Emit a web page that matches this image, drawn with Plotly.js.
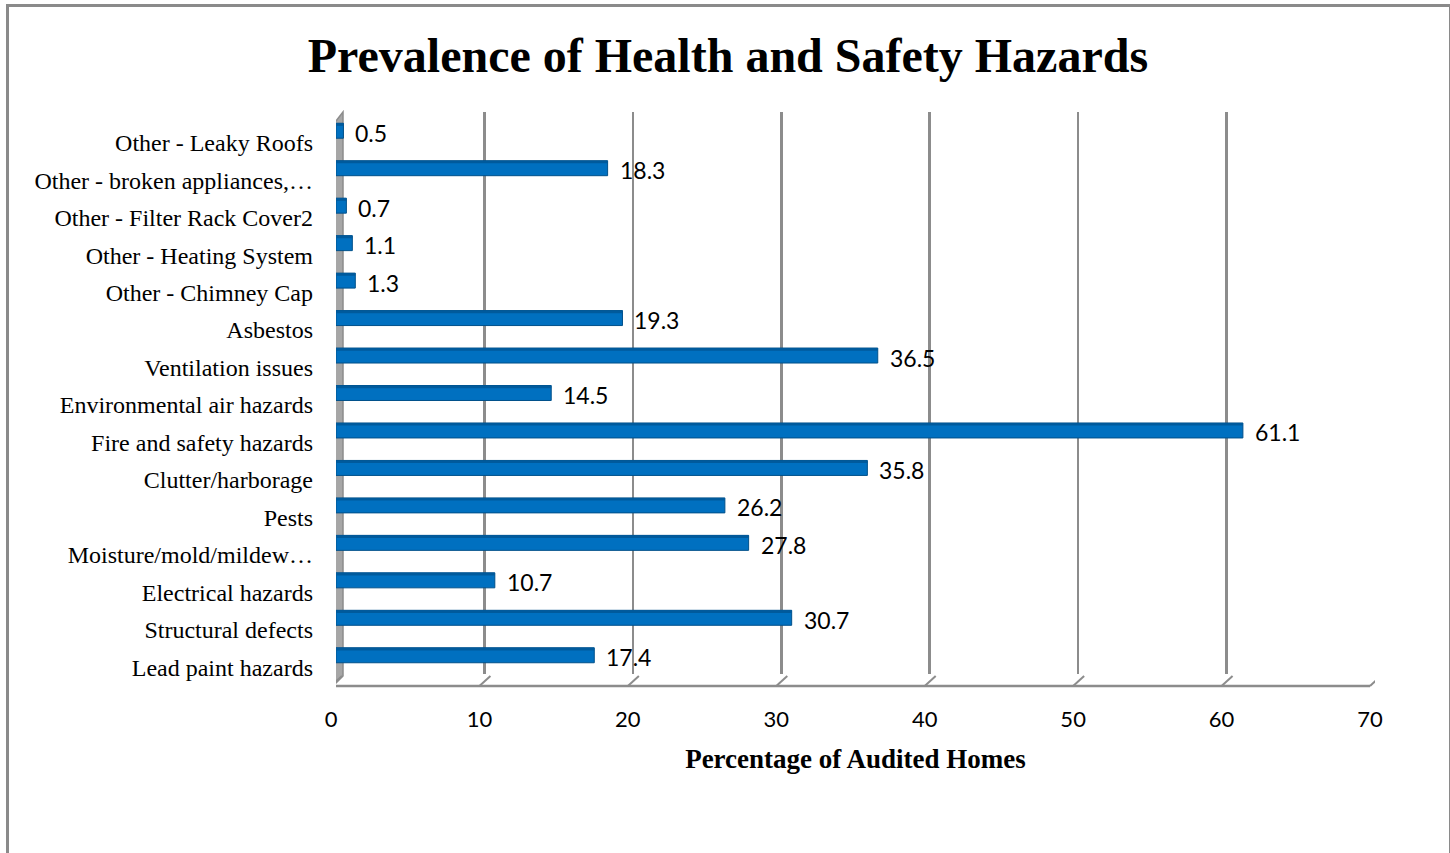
<!DOCTYPE html>
<html>
<head>
<meta charset="utf-8">
<script src="https://cdn.plot.ly/plotly-3.0.1.min.js"></script>
<style>
  html, body { margin: 0; padding: 0; background: #fff; }
  #chart { width: 1450px; height: 853px; position: absolute; left: 0; top: 0; }
  #frame { position: absolute; left: 6px; top: 4px; width: 1440px; height: 900px;
           border-left: 3px solid #8a8a8a; border-top: 3px solid #8a8a8a; border-right: 3px solid #8a8a8a;
           pointer-events: none; }
</style>
</head>
<body>
<div id="chart"></div>
<div id="frame"></div>
<script>
const categories = [
  "Lead paint hazards",
  "Structural defects",
  "Electrical hazards",
  "Moisture/mold/mildew…",
  "Pests",
  "Clutter/harborage",
  "Fire and safety hazards",
  "Environmental air hazards",
  "Ventilation issues",
  "Asbestos",
  "Other - Chimney Cap",
  "Other - Heating System",
  "Other - Filter Rack Cover2",
  "Other - broken appliances,…",
  "Other - Leaky Roofs"
];
const values = [17.4, 30.7, 10.7, 27.8, 26.2, 35.8, 61.1, 14.5, 36.5, 19.3, 1.3, 1.1, 0.7, 18.3, 0.5];
const xTicks = [0, 10, 20, 30, 40, 50, 60, 70];

// layout geometry (pixels)
const W = 1450, H = 853;
const mL = 336, mR = 75, mT = 112, mB = 179;
const plotW = W - mL - mR, plotH = H - mT - mB;
const xMax = 70;
const dx = px => px / plotW * xMax;          // pixel width -> data units
const py = pxFromPlotBottom => pxFromPlotBottom / plotH; // pixels -> paper units

const shapes = [];
// left wall (3D)
shapes.push({
  type: 'path', xref: 'x', yref: 'paper', layer: 'below',
  path: `M ${-dx(3)} ${py(-12)} L ${-dx(3)} ${py(plotH - 13)} L ${dx(7)} ${py(plotH)} L ${dx(7)} ${py(-2)} Z`,
  fillcolor: '#a6a6a6', line: {color: '#8c8c8c', width: 1.5}
});
// floor front edge
shapes.push({
  type: 'line', xref: 'x', yref: 'paper', layer: 'below',
  x0: -dx(5), x1: xMax - dx(5), y0: py(-12), y1: py(-12),
  line: {color: '#8c8c8c', width: 2.5}
});
// floor diagonals from each tick
xTicks.forEach(t => {
  shapes.push({
    type: 'line', xref: 'x', yref: 'paper', layer: 'below',
    x0: t - dx(5), x1: t + dx(6), y0: py(-12), y1: py(-2),
    line: {color: '#8c8c8c', width: 2}
  });
});

const barTrace = {
  type: 'bar',
  orientation: 'h',
  y: categories,
  x: values,
  width: 0.4,
  offset: -0.2,
  marker: { color: '#0070C0', line: { color: '#00508a', width: 1 } },
  hoverinfo: 'x+y'
};
// darker top face of the 3D bars
const topTrace = {
  type: 'bar',
  orientation: 'h',
  y: categories,
  x: values,
  width: 0.07,
  offset: 0.13,
  marker: { color: '#005a9c', line: { width: 0 } },
  hoverinfo: 'skip'
};

const annotations = values.map((v, i) => ({
  x: v, y: categories[i], xref: 'x', yref: 'y',
  text: String(v), showarrow: false,
  xanchor: 'left', yanchor: 'middle',
  xshift: 10, yshift: -2,
  font: { family: 'Lato, "Open Sans", sans-serif', size: 23, color: '#000' }
}));

const layout = {
  width: W, height: H,
  margin: { l: mL, r: mR, t: mT, b: mB, pad: 0 },
  paper_bgcolor: '#fff',
  plot_bgcolor: 'rgba(0,0,0,0)',
  showlegend: false,
  barmode: 'overlay',
  title: {
    text: '<b>Prevalence of Health and Safety Hazards</b>',
    font: { family: '"Liberation Serif", "Times New Roman", serif', size: 48, color: '#000' },
    x: 0.502, xref: 'container', xanchor: 'center',
    y: 1 - 55 / H, yref: 'container', yanchor: 'middle'
  },
  xaxis: {
    range: [0, xMax],
    tickvals: xTicks,
    ticktext: xTicks.map(String),
    showgrid: true, gridcolor: '#8c8c8c', gridwidth: 2.5,
    zeroline: false, showline: false, ticks: '',
    ticklabelstandoff: 30,
    ticklabelshift: -5,
    tickfont: { family: 'Lato, "Open Sans", sans-serif', size: 22, color: '#000' },
    title: {
      text: '<b>Percentage of Audited Homes</b>',
      font: { family: '"Liberation Serif", "Times New Roman", serif', size: 27, color: '#000' },
      standoff: 18
    },
    fixedrange: true
  },
  yaxis: {
    type: 'category',
    categoryorder: 'array', categoryarray: categories,
    range: [-0.5, categories.length - 0.5],
    showgrid: false, zeroline: false, showline: false, ticks: '',
    ticklabelstandoff: 22,
    ticklabelshift: 12,
    tickfont: { family: '"Liberation Serif", "Times New Roman", serif', size: 24, color: '#000' },
    automargin: false,
    fixedrange: true
  },
  annotations: annotations,
  shapes: shapes
};

Plotly.newPlot('chart', [barTrace, topTrace], layout, { displayModeBar: false, staticPlot: true });
</script>
</body>
</html>
